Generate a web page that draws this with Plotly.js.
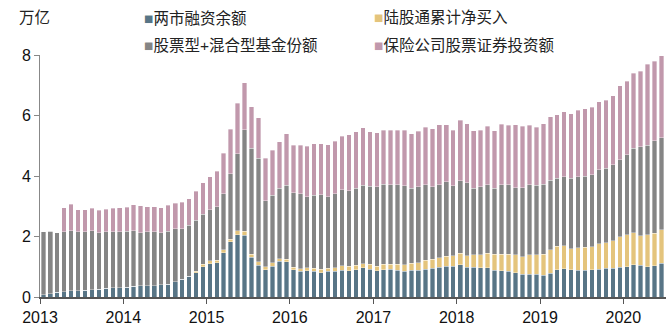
<!DOCTYPE html>
<html><head><meta charset="utf-8">
<script src="https://cdn.plot.ly/plotly-3.0.1.min.js"></script>
<style>html,body{margin:0;padding:0;background:#fff}#chart{width:668px;height:334px}</style>
</head><body><div id="chart"></div>
<script>
const months = [
'2013-01','2013-02','2013-03','2013-04','2013-05','2013-06','2013-07','2013-08','2013-09','2013-10','2013-11','2013-12',
'2014-01','2014-02','2014-03','2014-04','2014-05','2014-06','2014-07','2014-08','2014-09','2014-10','2014-11','2014-12',
'2015-01','2015-02','2015-03','2015-04','2015-05','2015-06','2015-07','2015-08','2015-09','2015-10','2015-11','2015-12',
'2016-01','2016-02','2016-03','2016-04','2016-05','2016-06','2016-07','2016-08','2016-09','2016-10','2016-11','2016-12',
'2017-01','2017-02','2017-03','2017-04','2017-05','2017-06','2017-07','2017-08','2017-09','2017-10','2017-11','2017-12',
'2018-01','2018-02','2018-03','2018-04','2018-05','2018-06','2018-07','2018-08','2018-09','2018-10','2018-11','2018-12',
'2019-01','2019-02','2019-03','2019-04','2019-05','2019-06','2019-07','2019-08','2019-09','2019-10','2019-11','2019-12',
'2020-01','2020-02','2020-03','2020-04','2020-05','2020-06'];

const yearTicks = ['2013','2014','2015','2016','2017','2018','2019','2020'];

// 两市融资余额 (万亿)
const marginBalance = [
0.08,0.11,0.15,0.17,0.21,0.21,0.23,0.24,0.26,0.29,0.31,0.31,
0.33,0.35,0.37,0.37,0.37,0.40,0.42,0.51,0.59,0.68,0.81,1.00,
1.10,1.14,1.47,1.83,2.06,2.04,1.32,1.05,0.90,1.02,1.18,1.17,
0.90,0.85,0.87,0.85,0.81,0.85,0.85,0.88,0.87,0.90,0.96,0.92,
0.86,0.90,0.91,0.88,0.85,0.88,0.88,0.92,0.95,0.99,1.01,1.01,
1.06,0.98,0.98,0.97,0.97,0.89,0.87,0.85,0.81,0.75,0.75,0.75,
0.72,0.78,0.90,0.94,0.90,0.88,0.88,0.90,0.92,0.95,0.95,0.99,
1.00,1.07,1.05,1.00,1.03,1.12];

// 陆股通累计净买入 (万亿)
const northbound = [
0,0,0,0,0,0,0,0,0,0,0,0,
0,0,0,0,0,0,0,0,0,0,0.04,0.09,
0.10,0.08,0.09,0.08,0.13,0.13,0.10,0.11,0.10,0.11,0.09,0.08,
0.09,0.09,0.10,0.10,0.10,0.10,0.12,0.15,0.14,0.15,0.14,0.16,
0.15,0.19,0.18,0.21,0.22,0.23,0.26,0.30,0.30,0.31,0.33,0.35,
0.39,0.38,0.41,0.42,0.48,0.52,0.54,0.56,0.59,0.58,0.64,0.64,
0.69,0.78,0.77,0.76,0.70,0.75,0.76,0.76,0.84,0.85,0.91,1.00,
1.05,1.05,0.97,1.05,1.07,1.11];

// 股票型+混合型基金份额 (万亿)
const fundShares = [
2.08,2.07,1.98,1.99,1.98,1.95,1.93,1.95,1.86,1.87,1.85,1.85,
1.84,1.84,1.76,1.79,1.79,1.73,1.75,1.75,1.67,1.69,1.68,1.64,
1.69,1.77,1.85,2.17,2.55,3.36,3.49,3.42,2.19,2.23,2.32,2.44,
2.46,2.48,2.35,2.41,2.47,2.37,2.44,2.51,2.51,2.54,2.59,2.58,
2.64,2.63,2.62,2.62,2.60,2.48,2.50,2.49,2.39,2.41,2.47,2.31,
2.39,2.41,2.20,2.26,2.26,2.18,2.30,2.30,2.22,2.29,2.32,2.30,
2.31,2.30,2.26,2.28,2.32,2.34,2.36,2.38,2.44,2.45,2.51,2.55,
2.66,2.79,2.94,2.96,3.07,3.04];

// 保险公司股票证券投资额 (万亿)
const insurance = [
0,0,0,0.79,0.88,0.73,0.73,0.75,0.75,0.74,0.78,0.79,
0.80,0.86,0.88,0.82,0.82,0.82,0.86,0.84,0.88,0.88,0.96,1.04,
1.08,1.16,1.34,1.46,1.67,1.55,1.38,1.34,1.40,1.49,1.54,1.70,
1.57,1.59,1.67,1.70,1.68,1.71,1.74,1.77,1.85,1.88,1.90,1.80,
1.78,1.80,1.81,1.81,1.85,1.80,1.84,1.90,1.92,1.98,1.88,1.84,
2.00,1.95,1.90,1.87,1.94,1.90,2.00,1.97,2.07,2.02,1.97,1.92,
2.01,2.10,2.09,2.14,2.13,2.20,2.23,2.24,2.25,2.26,2.29,2.45,
2.43,2.49,2.51,2.68,2.62,2.71];

const seriesNames = ['两市融资余额','陆股通累计净买入','股票型+混合型基金份额','保险公司股票证券投资额'];
const seriesColors = ['#587586','#e4c47c','#858585','#c198ac'];
const seriesValues = [marginBalance, northbound, fundShares, insurance];
const barWidthMs = 20 * 86400000;

const traces = seriesValues.map((vals, i) => ({
  type: 'bar', name: seriesNames[i], x: months, y: vals,
  xperiod: 'M1', xperiodalignment: 'middle', width: barWidthMs,
  marker: {color: seriesColors[i], line: {color: 'rgba(255,255,255,0.7)', width: 0.5}},
  showlegend: false, hoverinfo: 'x+y+name'
}));

const font = 'Liberation Sans, Arial, Noto Sans CJK SC, sans-serif';
const cjk = 'Liberation Sans, Noto Sans CJK SC, sans-serif';
const legendPos = [[0.163, 1.153],[0.530, 1.153],[0.163, 1.041],[0.530, 1.041]];
const annotations = seriesNames.map((n, i) => ({
  xref: 'paper', yref: 'paper', x: legendPos[i][0], y: legendPos[i][1],
  xanchor: 'left', yanchor: 'middle', showarrow: false,
  text: '<span style="color:' + seriesColors[i] + '">■</span>' + n,
  font: {family: cjk, size: 15.5, color: '#222'}
}));
annotations.push({
  xref: 'paper', yref: 'paper', x: -0.008, y: 1.153, xanchor: 'center', yanchor: 'middle',
  showarrow: false, text: '万亿', font: {family: cjk, size: 15.5, color: '#222'}
});

const layout = {
  width: 668, height: 334,
  margin: {l: 40, r: 2, t: 55, b: 37},
  paper_bgcolor: '#fff', plot_bgcolor: '#fff',
  barmode: 'stack',
  font: {family: font, size: 16, color: '#111'},
  xaxis: {
    type: 'date', range: ['2013-01-01', '2020-07-06'],
    tickvals: yearTicks.map(y => y + '-01-01'), ticktext: yearTicks,
    showgrid: false, zeroline: false,
    showline: true, linecolor: '#555', linewidth: 1.5,
    ticks: 'outside', ticklen: 5, tickcolor: '#555', tickwidth: 1,
    tickfont: {family: font, size: 16, color: '#111'}
  },
  yaxis: {
    range: [0, 8], tickvals: [0, 2, 4, 6, 8],
    showgrid: false, zeroline: false,
    showline: true, linecolor: '#888', linewidth: 1,
    ticks: 'outside', ticklen: 5, tickcolor: '#888', tickwidth: 1,
    tickfont: {family: font, size: 16, color: '#111'}
  },
  annotations: annotations,
  showlegend: false
};

Plotly.newPlot('chart', traces, layout, {staticPlot: true, displayModeBar: false});
</script>
</body></html>
